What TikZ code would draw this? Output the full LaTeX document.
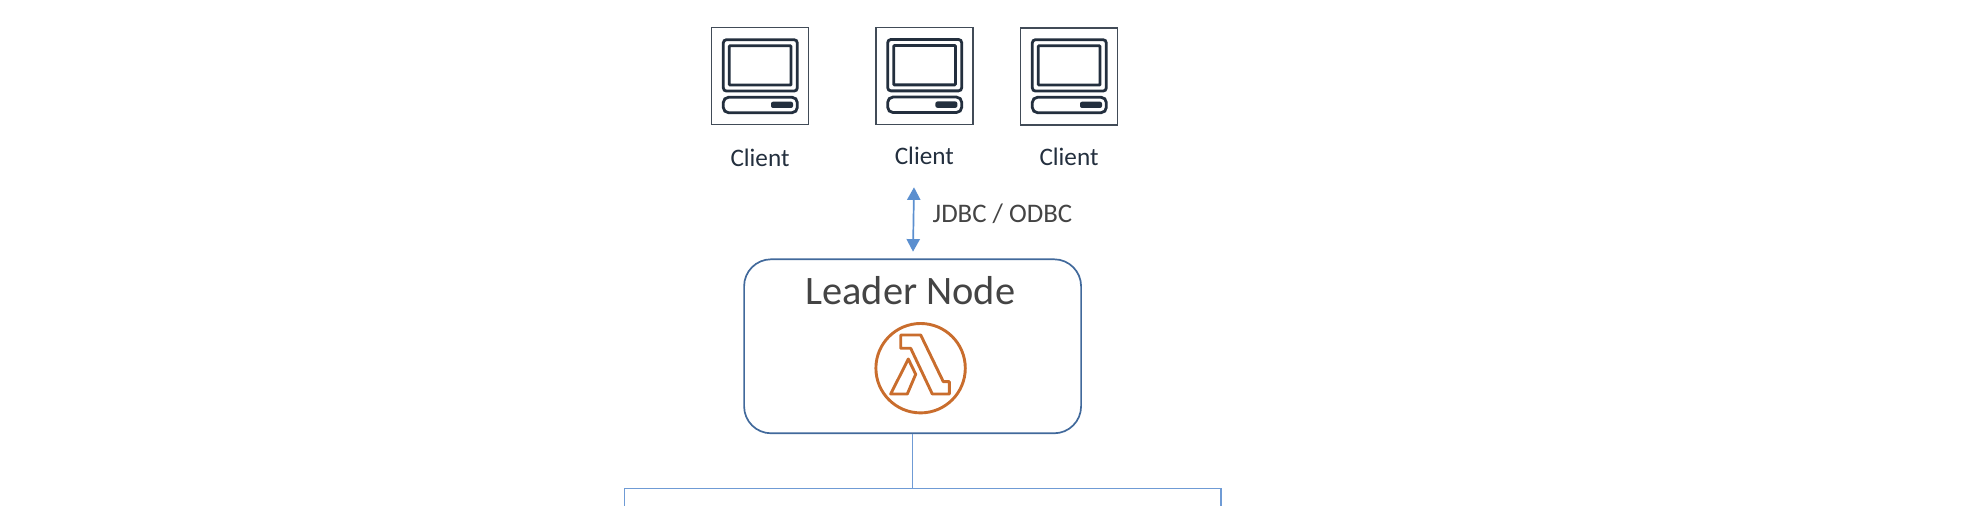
\documentclass[tikz,border=0pt]{standalone}
\usepackage{fontspec}
\setmainfont{Carlito}
\usetikzlibrary{arrows.meta}
\definecolor{inkdark}{HTML}{232F3E}
\definecolor{framegrey}{HTML}{414B57}
\definecolor{textgrey}{HTML}{444444}
\definecolor{leaderblue}{HTML}{41699B}
\definecolor{arrowblue}{HTML}{5B8FCF}
\definecolor{treeblue}{HTML}{6F9BD5}
\definecolor{lambdaorange}{HTML}{C96D2D}
\tikzset{
  x=0.5pt,y=-0.5pt,
  clientbox/.style={draw=framegrey,line width=0.55pt,minimum width=48.5pt,minimum height=48.5pt,inner sep=0pt,fill=white},
  clientlabel/.style={text=inkdark,font=\fontsize{12.6}{15}\selectfont,inner sep=0pt,anchor=base},
  iconline/.style={draw=inkdark,line width=1.4pt,rounded corners=1.6pt},
  leaderbox/.style={draw=leaderblue,line width=0.85pt,rounded corners=13.5pt,minimum width=168.5pt,minimum height=87pt,inner sep=0pt},
  heading/.style={text=textgrey,font=\fontsize{20.2}{24}\selectfont,inner sep=0pt,anchor=base},
  linklabel/.style={text=textgrey,font=\fontsize{13.4}{16}\selectfont,inner sep=0pt,anchor=base west},
  linkarrow/.style={draw=arrowblue,line width=0.85pt,{Triangle[width=6.6pt,length=6.3pt]}-{Triangle[width=6.6pt,length=6.3pt]}},
  treeline/.style={draw=treeblue,line width=0.55pt},
  lambdaline/.style={draw=lambdaorange,line width=1.45pt,line join=round}
}
\newcommand{\clientmonitor}[2]{%
  \begin{scope}[shift={(#1,#2)}]
    \draw[iconline] (12,12) rectangle (86,63.4);
    \draw[iconline,rounded corners=0.4pt] (18,18) rectangle (79.7,57.4);
    \draw[iconline,rounded corners=2.6pt] (12,69.6) rectangle (86,85);
    \fill[inkdark,rounded corners=1pt] (59.7,74) rectangle (81.7,80.3);
  \end{scope}}
\begin{document}
\begin{tikzpicture}
\useasboundingbox (0,0) rectangle (1972,506);
% clients
\node[clientbox] (boxa) at (760.2,76.4) {};
\node[clientbox] (boxb) at (924.5,76) {};
\node[clientbox] (boxc) at (1069.3,76.5) {};
\clientmonitor{711.3}{27.7}
\clientmonitor{875.7}{27.5}
\clientmonitor{1020.3}{27.7}
\node[clientlabel] (labela) at (760,166.7) {Client};
\node[clientlabel] (labelb) at (924.3,164.3) {Client};
\node[clientlabel] (labelc) at (1069,165.7) {Client};
% link
\coordinate (linktop) at (914,187.3);
\coordinate (linkbottom) at (913,251.7);
\draw[linkarrow] (linktop) -- (linkbottom);
\node[linklabel] (jdbc) at (932.3,222.7) {JDBC / ODBC};
% leader
\node[leaderbox] (leader) at (912.6,346.3) {};
\node[heading] (leadertitle) at (910.3,304.2) {Leader Node};
% lambda icon
\begin{scope}[shift={(860,315)}]
  \draw[lambdaline] (60.6,53.2) circle (44.7);
  \draw[lambdaline] (40.7,20) -- (60.7,20) -- (83.3,66.7) -- (89.3,66.7) -- (89.3,79) -- (72.3,79) -- (50.7,33.3) -- (40.7,33.3) -- cycle;
  \draw[lambdaline] (48.3,44) -- (55.7,59.3) -- (47.3,79) -- (30.7,79) -- cycle;
\end{scope}
% tree
\coordinate (treeleft) at (624.7,506);
\coordinate (treeright) at (1221,506);
\coordinate (treejoin) at (912.6,488.3);
\draw[treeline] (leader.south) -- (treejoin);
\draw[treeline] (treeleft) -- (treeleft |- treejoin) -- (treeright |- treejoin) -- (treeright);
\end{tikzpicture}
\end{document}
